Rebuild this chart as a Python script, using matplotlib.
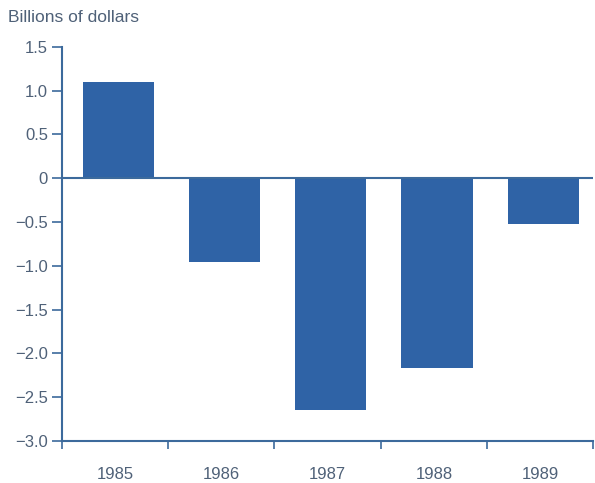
import matplotlib
matplotlib.use("Agg")
import matplotlib.pyplot as plt
import numpy as np

# data
years = ["1985", "1986", "1987", "1988", "1989"]
values = [1.1, -0.96, -2.65, -2.17, -0.52]
yticks = [1.5, 1.0, 0.5, 0, -0.5, -1.0, -1.5, -2.0, -2.5, -3.0]
ytick_labels = ["1.5", "1.0", "0.5", "0", "\u22120.5", "\u22121.0", "\u22121.5", "\u22122.0", "\u22122.5", "\u22123.0"]

bar_color = "#2f63a6"
axis_color = "#3c6a9c"
text_color = "#4f6178"

plt.rcParams['font.family'] = ['Liberation Sans', 'DejaVu Sans']

fig = plt.figure(figsize=(5.95, 4.83), dpi=100)
ax = fig.add_axes([0.104, 0.087, 0.893, 0.816])

x = np.arange(len(years))
ax.bar(x + 0.03, values, width=0.67, color=bar_color, zorder=2)
ax.axhline(0, color=axis_color, lw=1.5, zorder=3)

ax.set_xlim(-0.5, len(years) - 0.5)
ax.set_ylim(-3.0, 1.5)

ax.set_yticks(yticks)
ax.set_yticklabels(ytick_labels)
# ticks on category boundaries, labels centred
ax.set_xticks(np.arange(len(years) + 1) - 0.5)
ax.set_xticklabels([])
ax.set_xticks(x, minor=True)
ax.set_xticklabels(years, minor=True)
ax.tick_params(axis='x', which='minor', length=0, pad=19, labelsize=12, labelcolor=text_color)
ax.tick_params(axis='x', which='major', length=6, width=1.2, color=axis_color, direction='out')
ax.tick_params(axis='y', length=7, width=1.2, color=axis_color, labelsize=12,
               labelcolor=text_color, pad=3)

for s in ['top', 'right']:
    ax.spines[s].set_visible(False)
for s in ['left', 'bottom']:
    ax.spines[s].set_color(axis_color)
    ax.spines[s].set_linewidth(1.5)

fig.text(0.013, 0.963, "Billions of dollars", ha='left', va='center',
         fontsize=12.5, color=text_color)

fig.savefig("out.png", dpi=100)
